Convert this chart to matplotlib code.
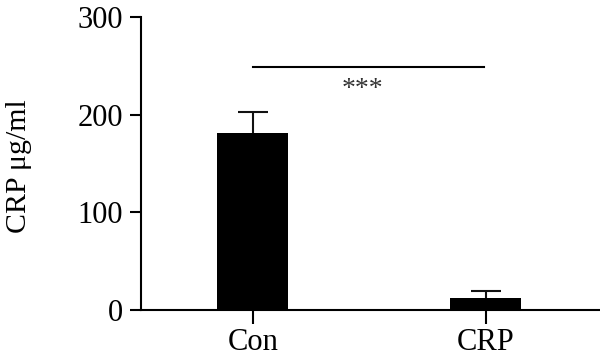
import numpy as np
import matplotlib
matplotlib.use('Agg')
import matplotlib.pyplot as plt

groups = ['Con', 'CRP']
means = [181, 12]
errors = [22, 7]
sig_level = 249
sig_text = '***'

plt.rcParams['font.family'] = ['Liberation Serif', 'DejaVu Serif']

fig = plt.figure(figsize=(6, 3.63), dpi=100)
ax = fig.add_axes([0.235, 0.147, 0.765, 0.806])

x = np.arange(len(groups))
ax.bar(x, means, width=0.305, color='black', zorder=2)
eb = ax.errorbar(x, means, yerr=[np.zeros(len(errors)), errors], fmt='none',
                 ecolor='#111111', elinewidth=1.5, capsize=11, capthick=1.5, zorder=1)
# only the upper cap is shown
eb[1][0].set_visible(False)

# significance bar
ax.plot([0.0, 0.99], [sig_level, sig_level], color='black', lw=1.5)
ax.text(0.47, sig_level - 10, sig_text, ha='center', va='top', fontsize=20, color='#333333')

ax.set_xlim(-0.48, 1.49)
ax.set_ylim(0, 300)
ax.set_yticks([0, 100, 200, 300])
ax.set_xticks(x)
ax.set_xticklabels(groups)
ax.set_ylabel('CRP μg/ml', fontsize=21.5)
ax.yaxis.set_label_coords(-0.238, 0.49)

for s in ['top', 'right']:
    ax.spines[s].set_visible(False)
for s in ['left', 'bottom']:
    ax.spines[s].set_linewidth(1.5)
ax.tick_params(axis='y', length=8, width=1.5, labelsize=22, pad=5)
ax.tick_params(axis='x', length=10, width=1.5, labelsize=22, pad=3)

fig.savefig('out.png', dpi=100)
